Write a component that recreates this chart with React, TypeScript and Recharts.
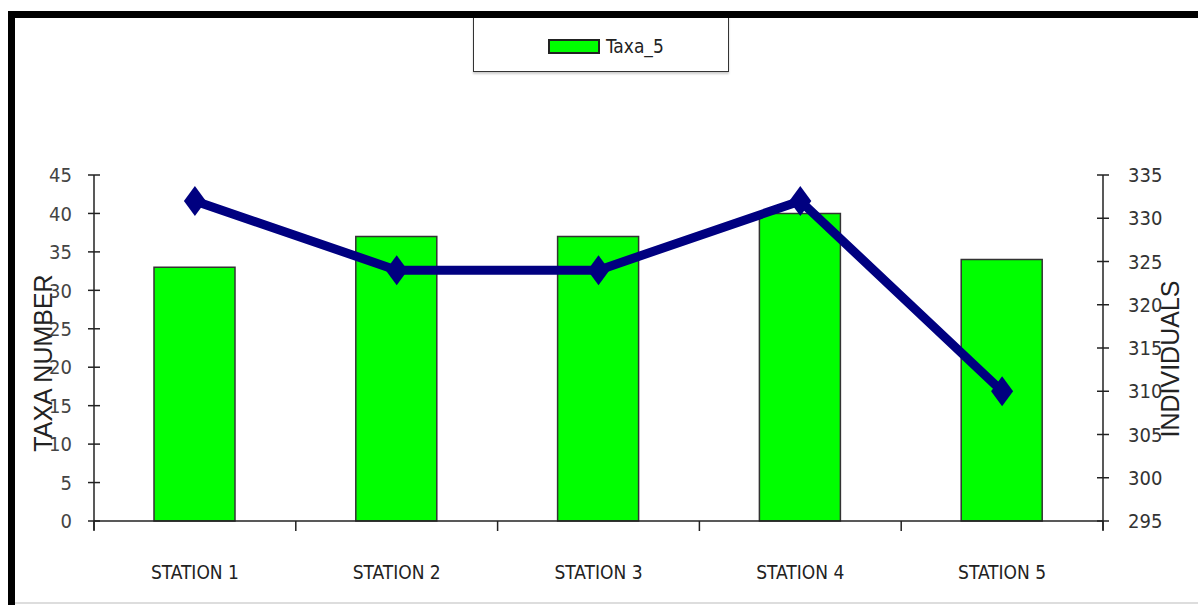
import React from "react";
import { ComposedChart, Bar, Line, XAxis, YAxis, Legend } from "recharts";

const stations = ["STATION 1", "STATION 2", "STATION 3", "STATION 4", "STATION 5"];
const taxaNumber = [33, 37, 37, 40, 34];
const individuals = [332, 324, 324, 332, 310];
const taxaTicks = [0, 5, 10, 15, 20, 25, 30, 35, 40, 45];
const individualTicks = [295, 300, 305, 310, 315, 320, 325, 330, 335];

const data = stations.map((station, i) => ({
  station,
  taxa: taxaNumber[i],
  individuals: individuals[i],
}));

const W = 1198;
const H = 605;
const X_AXIS_H = 30;
const MARGIN = { top: 175, right: 30, bottom: 84 - X_AXIS_H, left: 30 };
const LEFT_AXIS_W = 64;
const RIGHT_AXIS_W = 65;
const PLOT_W = W - MARGIN.left - MARGIN.right - LEFT_AXIS_W - RIGHT_AXIS_W;

const FONT = "'Liberation Sans Narrow', 'DejaVu Sans Condensed', 'Roboto Condensed', sans-serif";
const LABEL_FONT = "'Liberation Sans', Arial, sans-serif";
const INK = "#222";

const LEFT_GAP = 22;
const RIGHT_GAP = 25;
const X_GAP = 51;

function LeftTick(props: any) {
  const { x, y, payload } = props;
  const ax = x + LEFT_GAP;
  return (
    <g>
      <line x1={ax - 6} x2={ax + 6} y1={y} y2={y} stroke={INK} strokeWidth={1.5} />
      {payload.value === 0 && (
        <line x1={ax} x2={ax} y1={y} y2={y + 9} stroke={INK} strokeWidth={1.5} />
      )}
      <text x={x} y={y} dy="0.36em" textAnchor="end" fontFamily={FONT} fontSize={20} fill="#444">
        {payload.value}
      </text>
    </g>
  );
}

function RightTick(props: any) {
  const { x, y, payload } = props;
  const ax = x - RIGHT_GAP;
  return (
    <g>
      <line x1={ax - 6} x2={ax + 6} y1={y} y2={y} stroke={INK} strokeWidth={1.5} />
      {payload.value === 295 && (
        <line x1={ax} x2={ax} y1={y} y2={y + 9} stroke={INK} strokeWidth={1.5} />
      )}
      <text x={x} y={y} dy="0.36em" textAnchor="start" fontFamily={FONT} fontSize={20} fill="#333">
        {payload.value}
      </text>
    </g>
  );
}

// category ticks sit on the band edges, labels in the middle
function StationTick(props: any) {
  const { x, y, payload, index } = props;
  const half = PLOT_W / stations.length / 2;
  const ay = y - X_GAP;
  return (
    <g>
      <line x1={x - half} x2={x - half} y1={ay} y2={ay + 10} stroke={INK} strokeWidth={1.5} />
      {index === stations.length - 1 && (
        <line x1={x + half} x2={x + half} y1={ay} y2={ay + 10} stroke={INK} strokeWidth={1.5} />
      )}
      <text x={x} y={y} dy="0.36em" textAnchor="middle" fontFamily={FONT} fontSize={19} fill="#222">
        {payload.value}
      </text>
    </g>
  );
}

function Diamond(props: any) {
  const { cx, cy } = props;
  if (cx == null || cy == null) return null;
  const hw = 11;
  const hh = 15;
  return (
    <polygon
      points={`${cx},${cy - hh} ${cx + hw},${cy} ${cx},${cy + hh} ${cx - hw},${cy}`}
      fill="#000080"
    />
  );
}

function LegendBox({ payload }: any) {
  const items = (payload || []).filter((entry: any) => entry.type !== "none" && entry.dataKey === "taxa");
  return (
    <div
      style={{
        width: 256,
        height: 56,
        border: "1.5px solid #333",
        boxSizing: "border-box",
        position: "relative",
        background: "#fff",
        boxShadow: "0 2px 2px rgba(0,0,0,0.2)",
      }}
    >
      {items.map((entry: any) => (
        <div
          key={entry.value}
          style={{ position: "absolute", left: 74, top: 22, display: "flex", alignItems: "center" }}
        >
          <span
            style={{
              display: "inline-block",
              width: 52,
              height: 15,
              background: entry.color,
              border: "2px solid #222",
              boxSizing: "border-box",
            }}
          />
          <span style={{ marginLeft: 6, fontFamily: FONT, fontSize: 19, color: "#222", lineHeight: "15px" }}>
            {entry.value}
          </span>
        </div>
      ))}
    </div>
  );
}

function axisTitle(text: string, dx: number, dy: number) {
  return (p: any) => {
    const vb = p.viewBox;
    const cx = vb.x + dx;
    const cy = vb.y + vb.height / 2 + dy;
    return (
      <text
        x={cx}
        y={cy}
        transform={`rotate(-90 ${cx} ${cy})`}
        textAnchor="middle"
        dominantBaseline="central"
        fontFamily={LABEL_FONT}
        fontSize={25}
        fill="#222"
      >
        {text}
      </text>
    );
  };
}

export default function App() {
  return (
    <div
      style={{
        position: "absolute",
        left: 0,
        top: 0,
        width: W,
        height: H,
        overflow: "hidden",
        background: "#fff",
      }}
    >
      <ComposedChart width={W} height={H} data={data} margin={MARGIN}>
        <XAxis
          dataKey="station"
          height={X_AXIS_H}
          axisLine={{ stroke: INK, strokeWidth: 1.5 }}
          tickLine={false}
          tickSize={0}
          tickMargin={X_GAP}
          tick={<StationTick />}
          interval={0}
        />
        <YAxis
          yAxisId="left"
          orientation="left"
          width={LEFT_AXIS_W}
          domain={[0, 45]}
          ticks={taxaTicks}
          interval={0}
          axisLine={{ stroke: INK, strokeWidth: 1.5 }}
          tickLine={false}
          tickSize={0}
          tickMargin={LEFT_GAP}
          tick={<LeftTick />}
          label={axisTitle("TAXA NUMBER", 13, 15)}
        />
        <YAxis
          yAxisId="right"
          orientation="right"
          width={RIGHT_AXIS_W}
          domain={[295, 335]}
          ticks={individualTicks}
          interval={0}
          axisLine={{ stroke: INK, strokeWidth: 1.5 }}
          tickLine={false}
          tickSize={0}
          tickMargin={RIGHT_GAP}
          tick={<RightTick />}
          label={axisTitle("INDIVIDUALS", 67, 11)}
        />
        <Legend
          layout="horizontal"
          verticalAlign="middle"
          align="center"
          content={<LegendBox />}
          wrapperStyle={{ top: 16, left: 473, width: 256, height: 56 }}
        />
        <Bar
          yAxisId="left"
          dataKey="taxa"
          name="Taxa_5"
          fill="#00ff00"
          stroke="#333"
          strokeWidth={1.5}
          barSize={81}
          isAnimationActive={false}
        />
        <Line
          yAxisId="right"
          dataKey="individuals"
          name="INDIVIDUALS"
          type="linear"
          stroke="#000080"
          strokeWidth={9}
          strokeLinejoin="round"
          dot={<Diamond />}
          activeDot={false}
          legendType="none"
          isAnimationActive={false}
        />
      </ComposedChart>
      {/* outer frame, left and top edges only */}
      <div
        style={{
          position: "absolute",
          left: 8,
          top: 11,
          width: W + 20,
          height: H + 20,
          borderLeft: "7px solid #000",
          borderTop: "7px solid #000",
          pointerEvents: "none",
        }}
      />
      <div
        style={{
          position: "absolute",
          left: 15,
          top: 602,
          width: W,
          height: 2,
          background: "#ddd",
        }}
      />
    </div>
  );
}
